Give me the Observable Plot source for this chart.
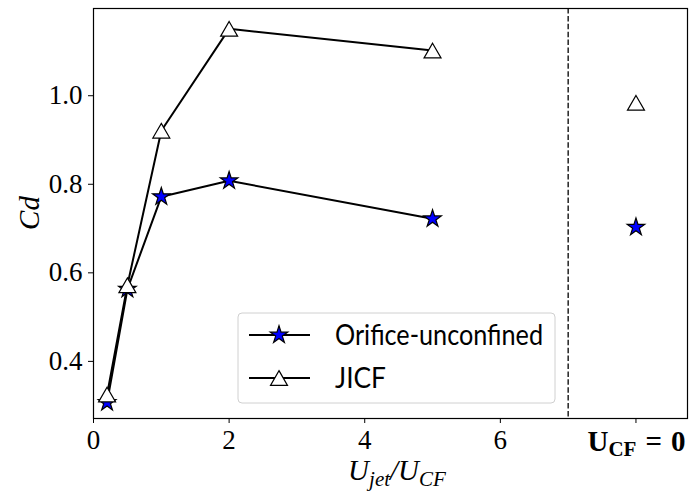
<!DOCTYPE html>
<html><head><meta charset="utf-8">
<script src="https://cdn.jsdelivr.net/npm/d3@7"></script>
<script src="https://cdn.jsdelivr.net/npm/@observablehq/plot@0.6"></script>
<style>body{margin:0;background:#fff}</style>
</head><body><div id="chart"></div>
<script>
const ratios = [0.2, 0.5, 1, 2, 5];
const cdOrifice = [0.307, 0.563, 0.772, 0.808, 0.722];
const cdJICF = [0.325, 0.572, 0.921, 1.151, 1.102];
const ucf0Pos = 8;
const cdOrificeUcf0 = 0.703;
const cdJICFUcf0 = 0.984;
const separatorPos = 7;
const xTicks = [0, 2, 4, 6];
const yTicks = [0.4, 0.6, 0.8, 1.0];
const seriesNames = ["Orifice-unconfined", "JICF"];

const orificeLine = ratios.map((r, i) => ({x: r, y: cdOrifice[i]}));
const jicfLine = ratios.map((r, i) => ({x: r, y: cdJICF[i]}));
const orificeDots = [...orificeLine, {x: ucf0Pos, y: cdOrificeUcf0}];
const jicfDots = [...jicfLine, {x: ucf0Pos, y: cdJICFUcf0}];

const serif = "'Liberation Serif', 'DejaVu Serif', serif";
const sans = "Lato, 'Open Sans', sans-serif";
const starR = 5.5, triR = 6.3, triDy = 2.45;

const plot = Plot.plot({
  width: 689, height: 493,
  marginLeft: 93, marginRight: 2, marginTop: 8, marginBottom: 75,
  style: {fontFamily: serif, background: "white", color: "black"},
  x: {domain: [0, 8.76]},
  y: {domain: [0.271, 1.197]},
  marks: [
    Plot.ruleX([separatorPos], {stroke: "black", strokeWidth: 1.3, strokeDasharray: "5.5,2.4"}),
    Plot.axisX({ticks: [...xTicks, ucf0Pos], tickFormat: d => d === ucf0Pos ? "" : String(d), tickSize: 5, tickPadding: 6, fontSize: 27, label: null, stroke: "black"}),
    Plot.axisY({ticks: yTicks, tickFormat: d => d.toFixed(1), tickSize: 5, tickPadding: 6, fontSize: 27, label: null, stroke: "black"}),
    Plot.line(orificeLine, {x: "x", y: "y", stroke: "black", strokeWidth: 2}),
    Plot.dot(orificeDots, {x: "x", y: "y", symbol: "star", r: starR, fill: "#0000ff", stroke: "black", strokeWidth: 1.2}),
    Plot.line(jicfLine, {x: "x", y: "y", stroke: "black", strokeWidth: 2}),
    Plot.dot(jicfDots, {x: "x", y: "y", symbol: "triangle", r: triR, dy: triDy, fill: "white", stroke: "black", strokeWidth: 1.2}),
    Plot.frame({stroke: "black", strokeWidth: 1.2})
  ]
});

document.getElementById("chart").appendChild(plot);
const svg = d3.select(plot);
const xs = plot.scale("x");

// U_CF = 0 label
const ucfX = xs.apply(ucf0Pos);
const t1 = svg.append("text").attr("x", ucfX + 1).attr("y", 451).attr("text-anchor", "middle")
  .attr("font-family", serif).attr("font-weight", "bold").attr("font-size", 29).attr("fill", "black");
t1.append("tspan").text("U");
t1.append("tspan").attr("font-size", 21).attr("dy", 5).text("CF");
t1.append("tspan").attr("dy", -5).attr("dx", 9).text("=");
t1.append("tspan").attr("dx", 9).text("0");

// x label
const xl = svg.append("text").attr("x", 397).attr("y", 480).attr("text-anchor", "middle")
  .attr("font-family", serif).attr("font-style", "italic").attr("font-size", 29).attr("fill", "black");
xl.append("tspan").text("U");
xl.append("tspan").attr("font-size", 21).attr("dy", 6).text("jet");
xl.append("tspan").attr("dy", -6).text("/U");
xl.append("tspan").attr("font-size", 21).attr("dy", 6).text("CF");

// y label
svg.append("text").attr("transform", "translate(39,213) rotate(-90)").attr("text-anchor", "middle")
  .attr("font-family", serif).attr("font-style", "italic").attr("font-size", 29).attr("fill", "black").text("Cd");

// legend
const lg = svg.append("g");
lg.append("rect").attr("x", 238).attr("y", 313).attr("width", 317).attr("height", 90).attr("rx", 4)
  .attr("fill", "white").attr("fill-opacity", 0.8).attr("stroke", "#d0d0d0").attr("stroke-width", 1);
const rowsY = [335, 378];
const syms = [d3.symbolStar, d3.symbolTriangle];
const fills = ["#0000ff", "white"];
const sizes = [Math.PI * starR * starR, Math.PI * triR * triR];
seriesNames.forEach((name, i) => {
  const y = rowsY[i];
  lg.append("line").attr("x1", 249).attr("x2", 310).attr("y1", y).attr("y2", y).attr("stroke", "black").attr("stroke-width", 2);
  lg.append("path").attr("d", d3.symbol(syms[i], sizes[i])()).attr("transform", `translate(279,${y + (i === 1 ? triDy : 0)})`)
    .attr("fill", fills[i]).attr("stroke", "black").attr("stroke-width", 1.2);
  lg.append("text").attr("x", 335).attr("y", y + 10).attr("text-anchor", "start")
    .attr("font-family", sans).attr("font-size", 29).attr("fill", "black")
    .attr("textLength", i === 0 ? 208 : 51).attr("lengthAdjust", "spacingAndGlyphs").text(name);
});
</script>
</body></html>
